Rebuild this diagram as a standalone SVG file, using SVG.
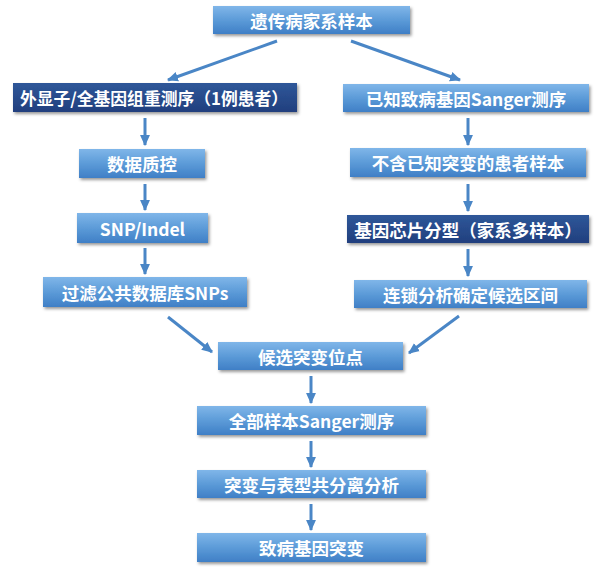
<svg xmlns="http://www.w3.org/2000/svg" width="600" height="570" viewBox="0 0 600 570">
<defs>
<linearGradient id="gb" x1="0" y1="0" x2="0" y2="1">
<stop offset="0" stop-color="#80B6E9"/>
<stop offset="0.5" stop-color="#5C9BD8"/>
<stop offset="1" stop-color="#3F7FC6"/>
</linearGradient>
<linearGradient id="gd" x1="0" y1="0" x2="0" y2="1">
<stop offset="0" stop-color="#2F5799"/>
<stop offset="1" stop-color="#213F7E"/>
</linearGradient>
<filter id="sh" x="-10%" y="-20%" width="120%" height="160%">
<feDropShadow dx="1.5" dy="2" stdDeviation="1.5" flood-color="#000" flood-opacity="0.4"/>
</filter>
<marker id="ah" viewBox="0 0 10 10" refX="9" refY="5" markerWidth="11" markerHeight="11" markerUnits="userSpaceOnUse" orient="auto">
<path d="M0,0.5 L10,5 L0,9.5 z" fill="#4A86C6"/>
</marker>
</defs>
<style>
.b{fill:url(#gb);filter:url(#sh)}
.d{fill:url(#gd);filter:url(#sh)}
.t{font-family:"Noto Sans CJK SC","Open Sans",sans-serif;font-weight:bold;font-size:17.5px;fill:#fff;text-anchor:middle;dominant-baseline:central}
.c line{stroke:#4A86C6;stroke-width:3;marker-end:url(#ah)}
</style>
<g class="c" id="connectors">
<line x1="277" y1="41" x2="168" y2="80"/>
<line x1="351" y1="41" x2="460" y2="80"/>
<line x1="145" y1="118" x2="145" y2="145"/>
<line x1="145" y1="184" x2="145" y2="210"/>
<line x1="145" y1="248" x2="145" y2="274"/>
<line x1="468" y1="118" x2="468" y2="145"/>
<line x1="468" y1="184" x2="468" y2="211"/>
<line x1="468" y1="249" x2="468" y2="276"/>
<line x1="168" y1="317" x2="212" y2="352"/>
<line x1="459" y1="316" x2="409" y2="353"/>
<line x1="311" y1="376" x2="311" y2="403"/>
<line x1="311" y1="441" x2="311" y2="467"/>
<line x1="311" y1="504" x2="311" y2="530"/>
</g>
<g id="n1"><rect class="b" x="213" y="6" width="197" height="28"/><text class="t" x="311.5" y="20">遗传病家系样本</text></g>
<g id="n2"><rect class="d" x="13" y="83" width="284" height="29"/><text class="t" x="154" y="97.5" style="font-size:16.8px">外显子/全基因组重测序（1例患者）</text></g>
<g id="n3"><rect class="b" x="343" y="84" width="246" height="28"/><text class="t" x="466" y="98">已知致病基因Sanger测序</text></g>
<g id="n4"><rect class="b" x="79" y="149" width="126" height="29"/><text class="t" x="142" y="163.5">数据质控</text></g>
<g id="n5"><rect class="b" x="350" y="148" width="236" height="29"/><text class="t" x="468" y="162.5">不含已知突变的患者样本</text></g>
<g id="n6"><rect class="b" x="77" y="213" width="131" height="30"/><text class="t" x="142.5" y="228">SNP/Indel</text></g>
<g id="n7"><rect class="d" x="347" y="215" width="242" height="28"/><text class="t" x="468" y="229">基因芯片分型（家系多样本）</text></g>
<g id="n8"><rect class="b" x="43" y="277" width="204" height="30"/><text class="t" x="145" y="292">过滤公共数据库SNPs</text></g>
<g id="n9"><rect class="b" x="354" y="280" width="233" height="28"/><text class="t" x="470.5" y="294">连锁分析确定候选区间</text></g>
<g id="n10"><rect class="b" x="218" y="342" width="185" height="28"/><text class="t" x="310.5" y="356">候选突变位点</text></g>
<g id="n11"><rect class="b" x="197" y="406" width="229" height="29"/><text class="t" x="311.5" y="420.5">全部样本Sanger测序</text></g>
<g id="n12"><rect class="b" x="197" y="470" width="229" height="28"/><text class="t" x="311.5" y="484">突变与表型共分离分析</text></g>
<g id="n13"><rect class="b" x="197" y="533" width="229" height="29"/><text class="t" x="311.5" y="547.5">致病基因突变</text></g>
</svg>
